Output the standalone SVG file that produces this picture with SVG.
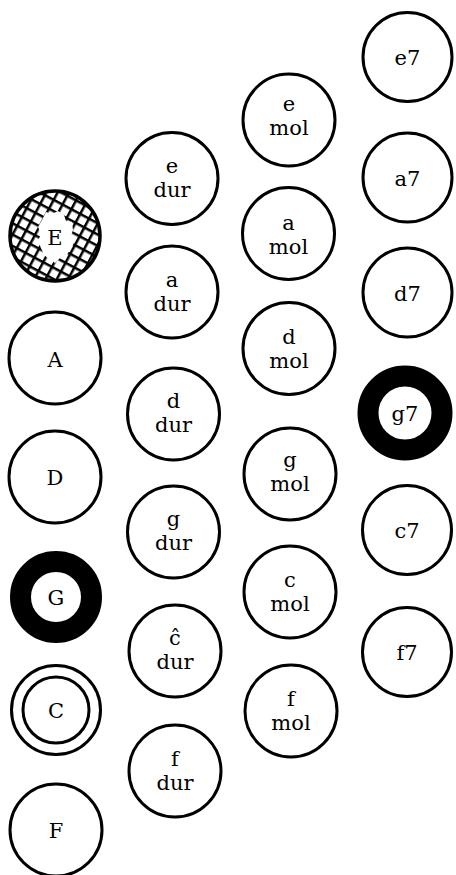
<svg xmlns="http://www.w3.org/2000/svg" width="456" height="875" viewBox="0 0 456 875">
<style>
.k{fill:#fff;stroke:#000;stroke-width:3}
.t{font-family:"DejaVu Serif","Liberation Serif",serif;font-size:21px;fill:#000;text-anchor:middle}
.ring{fill:#fff;stroke:#000;stroke-width:21}
</style>
<defs>
<pattern id="hatch" patternUnits="userSpaceOnUse" width="10" height="10" patternTransform="rotate(28)">
<rect width="10" height="10" fill="#fff"/>
<path d="M0 0H10M0 0V10" stroke="#000" stroke-width="5"/>
</pattern>
</defs>
<rect width="456" height="875" fill="#fff"/>

<g id="n-E">
<circle cx="55" cy="236" r="45" fill="url(#hatch)" stroke="#000" stroke-width="3.5"/>
<polygon points="46,212 52,214 58,211 64,215 66,221 72,222 73,230 71,236 74,243 70,250 66,256 60,258 55,263 49,259 44,255 41,248 38,241 41,234 38,227 42,220" fill="#fff"/>
<text class="t" x="55" y="245">E</text>
</g>
<g id="n-A"><circle class="k" cx="55" cy="358" r="46"/><text class="t" x="55" y="367">A</text></g>
<g id="n-D"><circle class="k" cx="55" cy="477" r="46"/><text class="t" x="55" y="485">D</text></g>
<g id="n-G"><circle class="ring" cx="56" cy="597" r="35.5"/><text class="t" x="56" y="605">G</text></g>
<g id="n-C"><circle class="k" cx="56" cy="710" r="44.5"/><circle class="k" cx="56" cy="710" r="33"/><text class="t" x="56" y="718">C</text></g>
<g id="n-F"><circle class="k" cx="56" cy="830" r="46"/><text class="t" x="56" y="838">F</text></g>

<g id="n-edur"><circle class="k" cx="172" cy="178.5" r="46"/><text class="t" x="172" y="173">e</text><text class="t" x="172" y="197">dur</text></g>
<g id="n-adur"><circle class="k" cx="172" cy="292" r="46"/><text class="t" x="172" y="287">a</text><text class="t" x="172" y="311">dur</text></g>
<g id="n-ddur"><circle class="k" cx="173.5" cy="414" r="46"/><text class="t" x="173.5" y="408">d</text><text class="t" x="173.5" y="432">dur</text></g>
<g id="n-gdur"><circle class="k" cx="173.5" cy="532" r="46"/><text class="t" x="173.5" y="526">g</text><text class="t" x="173.5" y="550">dur</text></g>
<g id="n-cdur"><circle class="k" cx="175" cy="651" r="46"/><text class="t" x="175" y="645">ĉ</text><text class="t" x="175" y="669">dur</text></g>
<g id="n-fdur"><circle class="k" cx="175" cy="771" r="46"/><text class="t" x="175" y="766">f</text><text class="t" x="175" y="790">dur</text></g>

<g id="n-emol"><circle class="k" cx="289" cy="120" r="46"/><text class="t" x="289" y="111">e</text><text class="t" x="289" y="135">mol</text></g>
<g id="n-amol"><circle class="k" cx="288.5" cy="233.5" r="46"/><text class="t" x="288.5" y="230">a</text><text class="t" x="288.5" y="254">mol</text></g>
<g id="n-dmol"><circle class="k" cx="289" cy="348.5" r="46"/><text class="t" x="289" y="344">d</text><text class="t" x="289" y="368">mol</text></g>
<g id="n-gmol"><circle class="k" cx="290" cy="474" r="46"/><text class="t" x="290" y="467">g</text><text class="t" x="290" y="491">mol</text></g>
<g id="n-cmol"><circle class="k" cx="290" cy="592" r="46"/><text class="t" x="290" y="587">c</text><text class="t" x="290" y="611">mol</text></g>
<g id="n-fmol"><circle class="k" cx="291" cy="711" r="46"/><text class="t" x="291" y="706">f</text><text class="t" x="291" y="730">mol</text></g>

<g id="n-e7"><circle class="k" cx="407.5" cy="57" r="44.5"/><text class="t" x="407.5" y="65">e7</text></g>
<g id="n-a7"><circle class="k" cx="407.5" cy="177.5" r="44.5"/><text class="t" x="407.5" y="186">a7</text></g>
<g id="n-d7"><circle class="k" cx="407.5" cy="292.5" r="44.5"/><text class="t" x="407.5" y="301">d7</text></g>
<g id="n-g7"><circle class="ring" cx="405" cy="413" r="37"/><text class="t" x="405" y="421">g7</text></g>
<g id="n-c7"><circle class="k" cx="407" cy="530" r="44.5"/><text class="t" x="407" y="538">c7</text></g>
<g id="n-f7"><circle class="k" cx="407" cy="652" r="44.5"/><text class="t" x="407" y="660">f7</text></g>
</svg>
